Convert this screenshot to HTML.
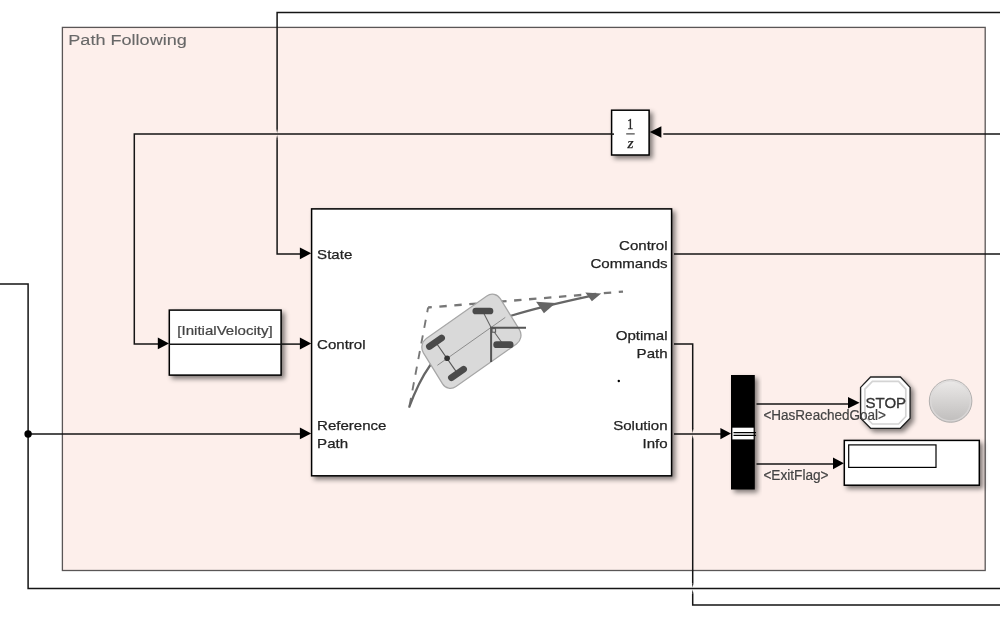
<!DOCTYPE html>
<html>
<head>
<meta charset="utf-8">
<title>Path Following</title>
<style>
html,body{margin:0;padding:0;background:#fff;overflow:hidden;}
body{width:1000px;height:618px;position:relative;font-family:"Liberation Sans",sans-serif;}
svg{position:absolute;left:0;top:0;display:block;}
text{font-family:"Liberation Sans",sans-serif;filter:url(#gs);}
.ln{fill:none;stroke:#151515;stroke-width:1.5;}
.blk{fill:#fff;stroke:#000;stroke-width:1.5;}
.lbl{font-size:13.5px;fill:#222;stroke:#222;stroke-width:0.25;}
.sig{font-size:14px;fill:#444;stroke:#444;stroke-width:0.22;}
</style>
</head>
<body>
<svg width="1000" height="618" viewBox="0 0 1000 618">
<defs>
  <filter id="gs" x="-5%" y="-20%" width="110%" height="140%"><feOffset dx="0" dy="0"/></filter>
  <filter id="sh" x="-20%" y="-20%" width="150%" height="150%">
    <feGaussianBlur in="SourceAlpha" stdDeviation="2.7"/>
    <feOffset dx="3.3" dy="3.3" result="o"/>
    <feComponentTransfer><feFuncA type="linear" slope="0.5"/></feComponentTransfer>
    <feMerge><feMergeNode/><feMergeNode in="SourceGraphic"/></feMerge>
  </filter>
  <linearGradient id="lamp" x1="0" y1="0" x2="0" y2="1">
    <stop offset="0" stop-color="#eceae9"/>
    <stop offset="1" stop-color="#bfbdbc"/>
  </linearGradient>
</defs>

<!-- Area -->
<rect x="62.4" y="27.4" width="922.8" height="543.1" fill="#fdefeb" stroke="#5a5656" stroke-width="1.3"/>
<text x="68.3" y="44.7" font-size="15.3" fill="#686868" stroke="#686868" stroke-width="0.12" textLength="118.5" lengthAdjust="spacingAndGlyphs">Path Following</text>

<!-- signal lines -->
<g class="ln">
<path d="M1000 12.5H277.1V129"/>
<path d="M277.1 139.2V253.9H301"/>
<path d="M1000 134.1H663.3"/>
<path d="M613 134.1H134.3V344.1H158.5"/>
<path d="M282 344.1H301"/>
<path d="M0 284.1H28.1V588.6H1000"/>
<path d="M28.1 434H301"/>
<path d="M674 254H1000"/>
<path d="M674 344.1H692.7V428.9"/>
<path d="M692.7 439.1V583.5"/>
<path d="M692.7 593.7V605H1000"/>
<path d="M674 434H721"/>
<path d="M756.5 404.1H850"/>
<path d="M756.5 464H833.5"/>
</g>
<path fill="#151515" d="M276.35 128.90H277.85L277.10 133.10ZM276.35 139.30H277.85L277.10 135.10Z"/>
<path fill="#151515" d="M691.95 428.80H693.45L692.70 433.00ZM691.95 439.20H693.45L692.70 435.00Z"/>
<path fill="#151515" d="M691.95 583.40H693.45L692.70 587.60ZM691.95 593.80H693.45L692.70 589.60Z"/>
<circle cx="28.1" cy="434" r="3.7" fill="#000"/>

<!-- arrowheads -->
<g fill="#000">
<path d="M311.2 253.3L299.9 247.4V259.2Z"/>
<path d="M311.2 343.5L299.9 337.6V349.4Z"/>
<path d="M311.2 433.4L299.9 427.5V439.3Z"/>
<path d="M169 343.4L157.8 337.5V349.3Z"/>
<path d="M649.8 132L661.4 126.3V137.7Z"/>
<path d="M731 433.6L720.4 427.9V439.3Z"/>
<path d="M859.6 402.8L848 397.1V408.5Z"/>
<path d="M843.9 463.3L833 457.4V469.2Z"/>
</g>

<!-- Unit delay -->
<g filter="url(#sh)"><rect class="blk" x="611.6" y="110.2" width="37.5" height="44.8"/></g>
<text x="630.3" y="128.5" font-size="15" text-anchor="middle" fill="#222" stroke="#222" stroke-width="0.4" textLength="6" lengthAdjust="spacingAndGlyphs" style="font-family:'Liberation Serif',serif">1</text>
<path d="M626.2 133.9H634.7" stroke="#333" stroke-width="1.1"/>
<text x="630.5" y="147.8" font-size="15.5" text-anchor="middle" fill="#222" stroke="#222" stroke-width="0.25" style="font-family:'Liberation Serif',serif;font-style:italic">z</text>

<path class="ln" d="M611 134.1H614"/>

<!-- InitialVelocity -->
<g filter="url(#sh)"><rect class="blk" x="169.3" y="310.1" width="111.8" height="65"/></g>
<path class="ln" d="M169 344.2H281.5"/>
<text class="sig" x="225" y="335" text-anchor="middle" style="font-size:13.3px" textLength="95.3" lengthAdjust="spacingAndGlyphs">[InitialVelocity]</text>

<!-- Main block -->
<g filter="url(#sh)"><rect class="blk" x="311.6" y="208.9" width="360" height="266.9"/></g>
<text class="lbl" x="317.1" y="259" textLength="35.2" lengthAdjust="spacingAndGlyphs">State</text>
<text class="lbl" x="317.1" y="349" textLength="48.5" lengthAdjust="spacingAndGlyphs">Control</text>
<text class="lbl" x="317.1" y="430" textLength="69.4" lengthAdjust="spacingAndGlyphs">Reference</text>
<text class="lbl" x="317.1" y="448" textLength="31.0" lengthAdjust="spacingAndGlyphs">Path</text>
<text class="lbl" x="667.6" y="250" text-anchor="end" textLength="48.5" lengthAdjust="spacingAndGlyphs">Control</text>
<text class="lbl" x="667.6" y="268" text-anchor="end" textLength="77.2" lengthAdjust="spacingAndGlyphs">Commands</text>
<text class="lbl" x="667.6" y="340" text-anchor="end" textLength="51.9" lengthAdjust="spacingAndGlyphs">Optimal</text>
<text class="lbl" x="667.6" y="358" text-anchor="end" textLength="31.0" lengthAdjust="spacingAndGlyphs">Path</text>
<text class="lbl" x="667.6" y="430" text-anchor="end" textLength="54.4" lengthAdjust="spacingAndGlyphs">Solution</text>
<text class="lbl" x="667.6" y="448" text-anchor="end" textLength="25.1" lengthAdjust="spacingAndGlyphs">Info</text>
<circle cx="618.8" cy="381" r="1.2" fill="#000"/>

<!-- car icon -->
<g id="car">
<!-- dashed reference path -->
<path d="M428.1 307.5L409.3 406.9" fill="none" stroke="#777" stroke-width="1.9" stroke-dasharray="8.2 7.7" stroke-dashoffset="3.4"/>
<path d="M428.1 307.5L623 291.6" fill="none" stroke="#777" stroke-width="2.3" stroke-dasharray="7.4 7.6" stroke-dashoffset="3.7"/>
<!-- solid path -->
<path d="M409 407.7C433.6 340.6 463.5 323.2 590 296.1" fill="none" stroke="#666" stroke-width="2.2"/>
<!-- arrowheads -->
<path d="M536.1 301.7L543.9 313.2L555.7 302.9Z" fill="#666"/>
<path d="M585.3 292.6L591.9 301.3L601.2 293.4Z" fill="#666"/>
<!-- body -->
<rect x="-47.6" y="-28.2" width="94" height="56.4" rx="10" ry="10" transform="matrix(0.8177,-0.5755,0.5263,0.8503,471.9,340.9)" fill="#d9d9d9" stroke="#a6a6a6" stroke-width="1.3"/>
<!-- centre line -->
<path d="M437.4 365.3L505.3 317.4" stroke="#8c8c8c" stroke-width="1" fill="none"/>
<!-- axles -->
<path d="M435.4 341.7L457.4 373.4" stroke="#555" stroke-width="1.1" fill="none"/>
<path d="M482.6 311L491.2 327.7L503.4 344.8" stroke="#666" stroke-width="1.1" fill="none"/>
<!-- wheels -->
<g stroke="#4a4a4a" stroke-width="6.7" stroke-linecap="round" fill="none">
<path d="M429.4 346.5L441.6 338"/>
<path d="M451.4 377.7L463.6 369.2"/>
<path d="M475.8 311H490"/>
<path d="M496.6 344.7H510.2"/>
</g>
<circle cx="447.1" cy="358.2" r="2.8" fill="#333"/>
<!-- axes -->
<rect x="492" y="328.6" width="3.6" height="3.6" fill="#cfcfcf" stroke="#555" stroke-width="1"/>
<path d="M490.2 327.7H526M491.1 326.8V362" stroke="#555" stroke-width="2" fill="none"/>
</g>

<!-- Bus selector -->
<g filter="url(#sh)"><rect x="731" y="375" width="23.8" height="114.5" fill="#000"/></g>
<rect x="732.4" y="427.7" width="21.2" height="11.7" fill="#fff"/>
<path d="M733.5 432.6H756M733.5 435.4H756" stroke="#000" stroke-width="1.2"/>

<!-- STOP -->
<g filter="url(#sh)"><path class="blk" style="stroke:#222;stroke-width:1.35" d="M870.6 377H900.4L910.1 387.4V418.3L900.4 428.3H870.6L860.6 418.3V387.4Z"/></g>
<path d="M872.4 381.4H898.6L905.8 389.2V416.5L898.6 424H872.4L864.9 416.5V389.2Z" fill="none" stroke="#d4d4d4" stroke-width="1.7"/>
<text x="885.8" y="407.8" font-size="14.5" fill="#333" stroke="#333" stroke-width="0.3" text-anchor="middle" textLength="40.7" lengthAdjust="spacingAndGlyphs">STOP</text>

<!-- Lamp -->
<circle cx="950.6" cy="401" r="21.3" fill="url(#lamp)" stroke="#b2b0af" stroke-width="1"/>
<circle cx="950.6" cy="401" r="19.9" fill="none" stroke="#dcdad9" stroke-width="1.4" opacity="0.8"/>

<!-- Display -->
<g filter="url(#sh)"><rect class="blk" x="844.3" y="440.4" width="135" height="44.8"/></g>
<rect x="848.7" y="444.9" width="87.3" height="22.5" fill="#fff" stroke="#000" stroke-width="1.2"/>

<!-- signal labels -->
<text class="sig" x="763.4" y="419.9" textLength="122.6" lengthAdjust="spacingAndGlyphs">&lt;HasReachedGoal&gt;</text>
<text class="sig" x="763.4" y="479.7" textLength="65.2" lengthAdjust="spacingAndGlyphs">&lt;ExitFlag&gt;</text>
</svg>
</body>
</html>
